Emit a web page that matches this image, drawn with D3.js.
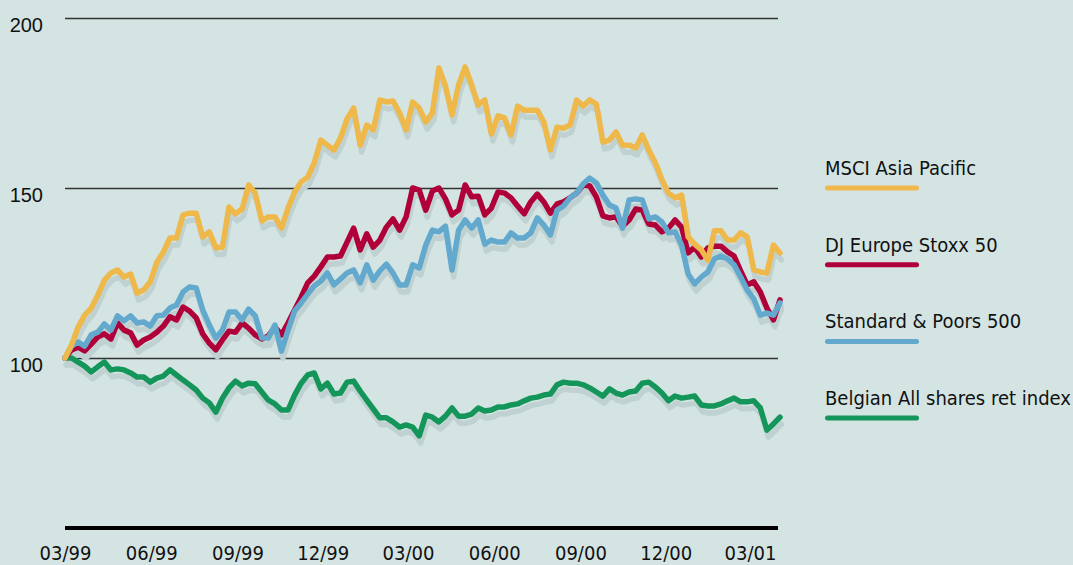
<!DOCTYPE html>
<html><head><meta charset="utf-8">
<script src="https://cdn.jsdelivr.net/npm/d3@7"></script>
<style>
html,body{margin:0;padding:0;background:#d4e4e3;}
svg{display:block;}
</style></head>
<body>
<svg id="chart" width="1073" height="565"></svg>
<script>
const dates = [
"1999-03-01","1999-03-08","1999-03-15","1999-03-22","1999-03-29","1999-04-05","1999-04-12","1999-04-19","1999-04-26","1999-05-03",
"1999-05-10","1999-05-17","1999-05-24","1999-05-31","1999-06-07","1999-06-14","1999-06-21","1999-06-28","1999-07-05","1999-07-12",
"1999-07-19","1999-07-26","1999-08-02","1999-08-09","1999-08-16","1999-08-23","1999-08-30","1999-09-06","1999-09-13","1999-09-20",
"1999-09-27","1999-10-04","1999-10-11","1999-10-18","1999-10-25","1999-11-01","1999-11-08","1999-11-15","1999-11-22","1999-11-29",
"1999-12-06","1999-12-13","1999-12-20","1999-12-27","2000-01-03","2000-01-10","2000-01-17","2000-01-24","2000-01-31","2000-02-07",
"2000-02-14","2000-02-21","2000-02-28","2000-03-06","2000-03-13","2000-03-20","2000-03-27","2000-04-03","2000-04-10","2000-04-17",
"2000-04-24","2000-05-01","2000-05-08","2000-05-15","2000-05-22","2000-05-29","2000-06-05","2000-06-12","2000-06-19","2000-06-26",
"2000-07-03","2000-07-10","2000-07-17","2000-07-24","2000-07-31","2000-08-07","2000-08-14","2000-08-21","2000-08-28","2000-09-04",
"2000-09-11","2000-09-18","2000-09-25","2000-10-02","2000-10-09","2000-10-16","2000-10-23","2000-10-30","2000-11-06","2000-11-13",
"2000-11-20","2000-11-27","2000-12-04","2000-12-11","2000-12-18","2000-12-25","2001-01-01","2001-01-08","2001-01-15","2001-01-22",
"2001-01-29","2001-02-05","2001-02-12","2001-02-19","2001-02-26","2001-03-05","2001-03-12","2001-03-19","2001-03-26","2001-04-02"];

const msciAsiaPacific = [
100,103.8,109.1,112.6,114.7,118.5,122.9,125.0,125.9,123.8,
124.7,119.1,120.0,122.4,128.2,131.2,135.3,135.3,142.1,142.6,
142.6,135.6,137.1,132.4,132.6,144.4,142.4,143.8,150.9,148.5,
140.3,141.5,141.5,138.2,144.1,148.8,151.8,153.2,157.4,164.1,
162.6,161.2,164.7,170.3,173.5,162.6,168.5,167.1,175.9,175.3,
175.6,172.1,167.1,175.3,173.5,169.4,172.1,185.3,180.0,171.5,
180.3,185.6,180.3,174.4,175.9,165.9,171.2,170.6,165.6,174.1,
172.9,172.9,172.9,169.4,161.2,167.9,167.6,168.5,175.9,174.1,
175.9,174.7,163.5,164.1,166.5,162.6,162.6,161.8,165.6,161.2,
157.4,152.4,148.5,147.1,147.9,135.6,133.5,131.8,128.8,137.4,
137.4,134.7,134.7,136.8,135.6,125.9,125.3,125.0,133.2,130.9];

const djEuropeStoxx50 = [
100,102.4,103.2,102.1,104.1,106.2,107.1,105.6,110.3,108.2,
107.4,103.8,105.3,106.2,107.6,109.4,112.1,111.2,115.0,113.8,
111.8,107.1,104.4,102.4,105.3,107.9,107.6,110.3,108.8,106.8,
105.6,106.5,109.1,106.8,110.3,114.1,117.9,122.1,124.1,126.8,
129.7,129.7,130.0,134.1,138.2,131.8,136.5,132.6,134.7,138.5,
140.9,137.6,141.5,150.0,149.4,143.5,149.1,150.0,146.8,142.1,
143.5,150.9,147.4,147.6,142.1,144.1,148.8,148.5,147.1,144.7,
142.4,145.9,148.2,145.9,142.6,145.3,145.9,147.1,148.5,150.9,
150.6,147.4,141.8,141.2,141.5,138.8,140.6,143.8,143.5,139.4,
139.1,137.1,138.2,140.6,138.5,130.9,132.6,129.7,132.4,132.9,
132.9,131.2,130.0,125.6,121.5,122.4,119.4,114.7,111.2,117.1];

const standardPoors500 = [
100,103.5,104.7,103.5,106.8,107.6,110.0,108.2,112.4,110.9,
112.4,110.3,110.6,109.4,112.4,112.6,114.7,115.6,119.4,120.9,
120.6,114.1,109.7,105.9,108.2,113.5,113.5,111.2,114.4,112.4,
105.9,105.9,109.7,102.0,108.2,113.8,116.2,118.8,121.2,122.6,
125.0,121.5,123.2,125.0,125.9,122.1,127.4,122.9,125.6,127.6,
125.0,121.5,121.5,127.4,126.5,133.2,137.6,137.1,138.8,125.9,
137.6,140.6,138.2,140.6,133.5,134.7,134.1,134.1,136.8,135.3,
135.3,136.8,141.2,139.1,136.2,143.5,144.7,147.1,148.5,151.2,
152.9,151.5,147.9,145.0,144.1,138.2,146.5,146.8,146.5,140.9,
141.5,140.0,136.8,137.1,133.2,124.7,121.8,123.8,125.3,129.1,
130.0,129.1,127.4,123.8,120.0,117.4,112.6,113.2,112.6,116.2];

const belgianAllShares = [
100,100,98.8,97.6,95.9,97.4,98.8,96.5,96.8,96.5,
95.6,94.4,94.4,92.9,94.1,94.7,96.5,95.0,93.5,92.1,
90.6,88.2,86.8,84.1,88.2,91.2,93.2,91.8,92.6,92.4,
90.0,87.6,86.5,84.7,84.7,89.1,92.6,95.0,95.6,90.9,
92.6,89.4,89.7,92.9,93.2,90.3,87.6,85.0,82.4,82.4,
81.2,79.7,80.3,79.7,77.1,83.2,82.6,81.2,82.9,85.3,
82.9,82.9,83.5,85.3,84.4,84.7,85.6,85.6,86.2,86.5,
87.4,88.2,88.5,89.1,89.4,92.1,92.9,92.6,92.6,92.1,
91.2,90.0,88.8,90.9,89.7,89.1,90.0,90.3,92.6,92.9,
91.5,89.7,87.4,88.8,88.2,88.5,88.8,86.2,85.9,85.9,
86.5,87.4,88.2,87.1,87.1,87.4,85.3,78.8,80.6,82.6];

const seriesNames = ["MSCI Asia Pacific","DJ Europe Stoxx 50","Standard & Poors 500","Belgian All shares ret index"];
const seriesColors = ["#efb84a","#b0003a","#62a9cd","#14955a"];
const yTicks = [100,150,200];
const xTickDates = ["1999-03-01","1999-06-01","1999-09-01","1999-12-01","2000-03-01","2000-06-01","2000-09-01","2000-12-01","2001-03-01"];
const xTickLabels = ["03/99","06/99","09/99","12/99","03/00","06/00","09/00","12/00","03/01"];

const parse = d3.timeParse("%Y-%m-%d");
const dateObjs = dates.map(parse);
const seriesValues = [msciAsiaPacific, djEuropeStoxx50, standardPoors500, belgianAllShares];

const svg = d3.select("#chart");
svg.append("rect").attr("width",1073).attr("height",565).attr("fill","#d4e4e3");

const x = d3.scaleTime().domain([parse("1999-03-01"), parse("2001-04-02")]).range([65, 780]);
const y = d3.scaleLinear().domain([50, 200]).range([528, 18]);

// y gridlines + labels
const yAxis = svg.append("g").attr("transform","translate(65,0)")
  .call(d3.axisLeft(y).tickValues(yTicks).tickSize(-713).tickPadding(22).tickFormat(d3.format("d")));
yAxis.select(".domain").remove();
yAxis.selectAll(".tick line").attr("stroke","#333").attr("stroke-width",1.5);
yAxis.selectAll(".tick text").attr("font-family","'Liberation Sans', Arial, sans-serif")
  .attr("font-size",20).attr("fill","#111").attr("x",-22).attr("dy","0.32em").attr("y",7);

// x axis
const xAxis = svg.append("g").attr("transform","translate(0,528)")
  .call(d3.axisBottom(x).tickValues(xTickDates.map(parse)).tickSize(0)
    .tickFormat((d,i)=>xTickLabels[i]));
xAxis.select(".domain").attr("d","M65,0H778").attr("stroke","#000").attr("stroke-width",4);
xAxis.selectAll(".tick text").attr("font-family","'DejaVu Sans Condensed','DejaVu Sans',sans-serif")
  .attr("font-stretch","condensed").attr("font-size",20).attr("fill","#111").attr("y",32).attr("dy",0);

const line = d3.line().x((d,i)=>x(dateObjs[i])).y(d=>y(d)).curve(d3.curveLinear);

const drawOrder = [3,1,2,0];
// shadows
const shadowG = svg.append("g").attr("transform","translate(1.5,7)");
drawOrder.forEach(k=>{
  shadowG.append("path").datum(seriesValues[k]).attr("d",line)
    .attr("fill","none").attr("stroke","#bfd1d0").attr("stroke-width",5.5)
    .attr("stroke-linejoin","round").attr("stroke-linecap","round");
});
const lineG = svg.append("g");
drawOrder.forEach(k=>{
  lineG.append("path").datum(seriesValues[k]).attr("d",line)
    .attr("fill","none").attr("stroke",seriesColors[k]).attr("stroke-width",5.5)
    .attr("stroke-linejoin","round").attr("stroke-linecap","round");
});

// legend
const legendTop = 175, legendStep = 76.7;
const lg = svg.append("g");
seriesNames.forEach((name,i)=>{
  const by = legendTop + i*legendStep;
  lg.append("text").attr("x",825).attr("y",by).text(name)
    .attr("font-family","'DejaVu Sans Condensed','DejaVu Sans',sans-serif")
    .attr("font-stretch","condensed").attr("font-size",20).attr("fill","#111");
  lg.append("line").attr("x1",827.5).attr("x2",916.5).attr("y1",by+13).attr("y2",by+13)
    .attr("stroke",seriesColors[i]).attr("stroke-width",5).attr("stroke-linecap","round");
});
</script>
</body></html>
